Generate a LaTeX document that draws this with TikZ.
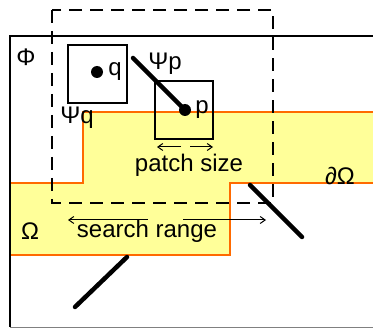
\documentclass[tikz,border=0pt]{standalone}
\usepackage{fontspec}
\setmainfont{Liberation Sans}
\usetikzlibrary{arrows.meta, positioning}
\definecolor{omegafill}{HTML}{FFFF99}
\definecolor{omegaline}{HTML}{FF6A00}

\begin{document}
\begin{tikzpicture}[
    x=1pt, y=-1pt,
    lbl/.style={font=\fontsize{24}{26}\selectfont, inner sep=0pt},
    patchbox/.style={draw, line width=1.2pt},
    dot/.style={circle, fill, inner sep=0pt, minimum size=12pt},
    isoline/.style={line width=4.5pt, line cap=round},
    dimarrow/.style={-{Straight Barb[length=5pt, width=7pt]}, line width=1pt},
    searchbox/.style={draw, line width=1.3pt, dash pattern=on 13pt off 8pt}
]
    \useasboundingbox (0,0) rectangle (373,329);

    % target region
    \draw[fill=omegafill, draw=omegaline, line width=1.2pt]
        (83,112) -- (380,112) -- (380,183) -- (230,183) -- (230,255)
        -- (10,255) -- (10,183) -- (83,183) -- cycle;

    % image frame
    \draw[line width=1.2pt] (380,36) -- (10,36) -- (10,327);
    \draw[gray, line width=1pt] (10,327) -- (380,327);

    % search window
    \draw[searchbox] (52,10) rectangle (273,203);

    % patches
    \draw[patchbox] (68,45) rectangle (127,103);
    \draw[patchbox] (155,81) rectangle (213,139);
    \node[dot] (q) at (97,72) {};
    \node[dot] (p) at (185,110) {};
    \node[lbl, right=5pt of q] (qlbl) {q};
    \node[lbl, right=4pt of p] (plbl) {p};

    % isophote lines
    \coordinate (n1) at (133,58);
    \coordinate (n2a) at (250,185);
    \coordinate (n2b) at (302,237);
    \coordinate (n3a) at (127,257);
    \coordinate (n3b) at (75,307);
    \draw[isoline] (n1) -- (p.center);
    \draw[isoline] (n2a) -- (n2b);
    \draw[isoline] (n3a) -- (n3b);

    % labels
    \node[lbl] (phi) at (26,57) {Φ};
    \node[lbl] (psip) at (165,64) {Ψp};
    \node[lbl] (psiq) at (77,118) {Ψq};
    \node[lbl] (omega) at (30,231) {Ω};
    \node[lbl] (domega) at (340,176) {∂Ω};

    % patch size
    \coordinate (ps1) at (181,147);
    \coordinate (ps2) at (157,147);
    \coordinate (ps3) at (190,147);
    \coordinate (ps4) at (213,147);
    \draw[dimarrow] (ps1) -- (ps2);
    \draw[dimarrow] (ps3) -- (ps4);
    \node[lbl] (psize) at (189,165) {patch size};

    % search range
    \coordinate (sr1) at (148,220);
    \coordinate (sr2) at (68,220);
    \coordinate (sr3) at (183,220);
    \coordinate (sr4) at (266,220);
    \draw[dimarrow] (sr1) -- (sr2);
    \draw[dimarrow] (sr3) -- (sr4);
    \node[lbl] (srange) at (147,231) {search range};
\end{tikzpicture}
\end{document}
